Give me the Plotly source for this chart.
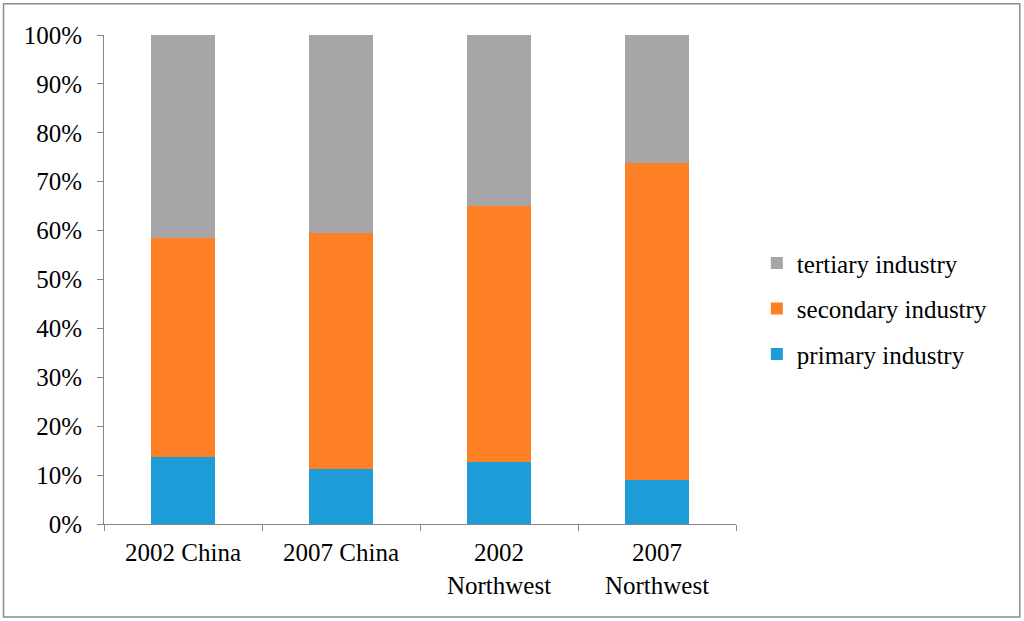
import plotly.graph_objects as go

categories = ["2002 China", "2007 China", "2002<br>Northwest", "2007<br>Northwest"]
primary = [13.8, 11.2, 12.7, 9.0]
secondary = [44.7, 48.4, 52.3, 64.8]
tertiary = [41.5, 40.4, 35.0, 26.2]

series = [
    ("primary industry", primary, "#1E9CD8", 3),
    ("secondary industry", secondary, "#FD7F26", 2),
    ("tertiary industry", tertiary, "#A6A6A6", 1),
]

fig = go.Figure()
for name, vals, color, rank in series:
    fig.add_trace(go.Bar(
        x=categories, y=[v / 100 for v in vals], name=name,
        marker=dict(color=color, line=dict(width=0)),
        legendgroup=name, legendrank=rank,
    ))

font = "Liberation Serif, Times New Roman, serif"
fig.update_layout(
    barmode="stack",
    bargap=0.6,
    width=1024, height=621,
    margin=dict(l=104, r=288, t=35, b=97),
    paper_bgcolor="white", plot_bgcolor="white",
    font=dict(family=font, size=25, color="black"),
    legend=dict(
        x=1.033, xanchor="left", y=0.44, yanchor="middle",
        traceorder="grouped", tracegroupgap=10,
        font=dict(family=font, size=25, color="black"),
        itemwidth=30,
    ),
    shapes=[dict(type="rect", xref="paper", yref="paper",
                 x0=-0.159, x1=1.449, y0=-0.190, y1=1.064,
                 line=dict(color="#8C8C8C", width=1.5))],
)
fig.update_yaxes(
    range=[0, 1], dtick=0.1, tickformat=".0%",
    showgrid=False, zeroline=False,
    showline=True, linecolor="#868686", linewidth=1,
    ticks="outside", ticklen=6, tickcolor="#868686",
    ticklabelstandoff=10,
)
fig.update_xaxes(
    showgrid=False, showline=True, linecolor="#868686", linewidth=1,
    ticks="outside", ticklen=6, tickcolor="#868686", tickson="boundaries",
    ticklabelstandoff=6,
)
fig.write_html("out.html", config={"displayModeBar": False},
               post_script="document.body.style.margin='0';")
